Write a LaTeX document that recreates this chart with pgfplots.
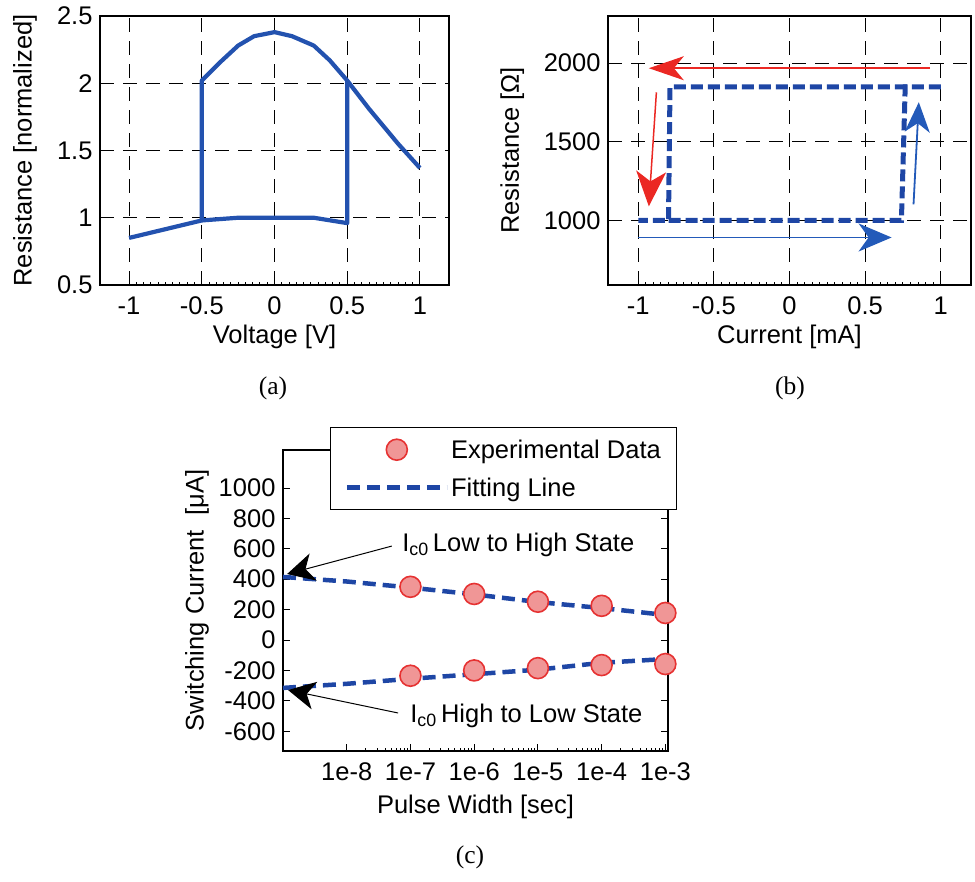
\documentclass[border=0pt]{standalone}
\usepackage{pgfplots}
\pgfplotsset{compat=1.18}
\usepackage{fontspec}
\setmainfont{Liberation Sans}
\newfontfamily\capfont{Liberation Serif}
\usetikzlibrary{arrows.meta}

\definecolor{lineblue}{RGB}{35,82,175}
\definecolor{dashblue}{RGB}{30,70,165}
\definecolor{arrblue}{RGB}{35,90,185}
\definecolor{arrred}{RGB}{235,40,35}
\definecolor{mkfill}{RGB}{240,150,150}
\definecolor{mkdraw}{RGB}{230,50,50}

\newcommand{\bigfont}{\fontsize{25.5bp}{29bp}\selectfont}

\pgfplotsset{
  base/.style={
    scale only axis,
    axis line style={line width=1.3bp},
    tick style={black, line width=1bp},
    major tick length=7bp,
    minor tick length=3bp,
    tick align=inside,
    /pgf/number format/assume math mode=true,
    tick label style={font=\bigfont},
    xticklabel style={yshift=-8bp},
    yticklabel style={xshift=-4bp},
    label style={font=\bigfont},
  },
  dgrid/.style={grid=major, major grid style={black, line width=1.1bp, dash pattern=on 14bp off 9bp}},
}

\begin{document}
\begin{tikzpicture}
\useasboundingbox (0bp,0bp) rectangle (975bp,882bp);

% ---------------- (a)
\begin{axis}[base, dgrid, at={(100bp,597bp)}, anchor=south west, width=349bp, height=269bp,
  xmin=-1.2, xmax=1.2, ymin=0.5, ymax=2.5,
  xtick={-1,-0.5,0,0.5,1}, xticklabels={-1,-0.5,0,0.5,1},
  ytick={0.5,1,1.5,2,2.5}, yticklabels={0.5,1,1.5,2,2.5},
  minor x tick num=9, xtick pos=bottom, ytick pos=left,
  xlabel={Voltage [V]}, ylabel={Resistance [normalized]},
  xlabel style={at={(axis description cs:0.5,-0.219)}, anchor=base},
  ylabel style={at={(axis description cs:-0.215,0.5)}, anchor=center},
]
\addplot[lineblue, line width=4.2bp, line join=round] coordinates {(-1,0.85)(-0.5,0.98)(-0.5,2.02)(-0.37,2.16)(-0.25,2.28)(-0.14,2.35)(0,2.38)(0.12,2.35)(0.27,2.28)(0.38,2.17)(0.5,2.02)(0.65,1.81)(0.85,1.55)(1,1.37)};
\addplot[lineblue, line width=4.2bp, line join=round] coordinates {(-0.5,0.98)(-0.25,1.0)(0,1.0)(0.27,1.0)(0.5,0.96)(0.5,2.02)};
\end{axis}

% ---------------- (b)
\begin{axis}[base, dgrid, at={(608bp,597bp)}, anchor=south west, width=363bp, height=269bp,
  xmin=-1.2, xmax=1.2, ymin=590, ymax=2300,
  xtick={-1,-0.5,0,0.5,1}, xticklabels={-1,-0.5,0,0.5,1},
  ytick={1000,1500,2000}, yticklabels={1000,1500,2000},
  minor x tick num=9, xtick pos=bottom, ytick pos=left,
  xlabel={Current [mA]}, ylabel={Resistance [Ω]},
  xlabel style={at={(axis description cs:0.5,-0.219)}, anchor=base},
  ylabel style={at={(axis description cs:-0.264,0.5)}, anchor=center},
]
\addplot[dashblue, line width=5bp, dash pattern=on 12bp off 5bp] coordinates {(1,1850)(-0.79,1850)(-0.8,1000)(-1,1000)};
\addplot[dashblue, line width=5bp, dash pattern=on 12bp off 5bp] coordinates {(-0.8,1000)(0.74,1000)(0.765,1850)(0.8,1850)};
\addplot[arrred, line width=1.5bp, -{Stealth[length=35bp,width=24bp,inset=10bp]}] coordinates {(0.93,1968)(-0.93,1968)};
\addplot[arrred, line width=1.5bp, -{Stealth[length=35bp,width=30bp,inset=10bp]}] coordinates {(-0.88,1815)(-0.93,1090)};
\addplot[arrblue, line width=1.8bp, -{Stealth[length=33bp,width=28bp,inset=10bp]}] coordinates {(-1,892)(0.675,892)};
\addplot[arrblue, line width=1.8bp, -{Stealth[length=30bp,width=25bp,inset=9bp]}] coordinates {(0.82,1102)(0.855,1752)};
\end{axis}

% ---------------- (c)
\begin{axis}[base, xmode=log, at={(283bp,131bp)}, anchor=south west, width=385bp, height=301bp,
  xmin=1e-9, xmax=1.1e-3, ymin=-730, ymax=1250, clip=false,
  xtick={1e-8,1e-7,1e-6,1e-5,1e-4,1e-3}, xticklabels={1e-8,1e-7,1e-6,1e-5,1e-4,1e-3},
  ytick={-600,-400,-200,0,200,400,600,800,1000},
  yticklabels={-600,-400,-200,0,200,400,600,800,1000},
  xtick pos=bottom,
  xlabel={Pulse Width [sec]}, ylabel={Switching Current\ \ [μA]},
  xlabel style={at={(axis description cs:0.5,-0.206)}, anchor=base},
  ylabel style={at={(axis description cs:-0.223,0.5)}, anchor=center},
  legend style={at={(0.122,1.076)}, anchor=north west, draw=black, line width=1.2bp,
    fill=white, font=\bigfont, row sep=14bp, inner xsep=14bp, inner ysep=10bp,
    cells={anchor=west},
    /tikz/every even column/.append style={column sep=20bp}},
  legend image code/.code={\draw[mark repeat=2,mark phase=2,#1] plot coordinates {(0bp,0bp)(50bp,0bp)(100bp,0bp)};},
]
\addplot[only marks, mark=*, mark size=10.5bp, mark options={fill=mkfill, draw=mkdraw, line width=1.6bp}] coordinates {
(1e-7,350)(1e-6,303)(1e-5,252)(1e-4,225)(1e-3,178)
(1e-7,-235)(1e-6,-200)(1e-5,-185)(1e-4,-165)(1e-3,-158)};
\addlegendentry{Experimental Data}
\addplot[dashblue, line width=4.5bp, dash pattern=on 13bp off 7bp] coordinates {
(1e-9,415)(1e-8,385)(1e-7,345)(1e-6,300)(1e-5,250)(1e-4,210)(1e-3,165)};
\addlegendentry{Fitting Line}
\addplot[dashblue, line width=4.5bp, dash pattern=on 13bp off 7bp, forget plot] coordinates {
(1e-9,-315)(1e-8,-288)(1e-7,-255)(1e-6,-225)(1e-5,-195)(1e-4,-150)(1e-3,-125)};
\addplot[black, line width=1bp, -{Stealth[length=27bp,width=28bp,inset=8bp]}, forget plot] coordinates {(5.1e-8,618)(1.16e-9,434)};
\addplot[black, line width=1bp, -{Stealth[length=27bp,width=28bp,inset=8bp]}, forget plot] coordinates {(6.4e-8,-480)(1.2e-9,-329)};
\node[anchor=base west, inner sep=0pt, font=\bigfont] at (axis cs:7.4e-8,580) {I\textsubscript{c0}\,Low to High State};
\node[anchor=base west, inner sep=0pt, font=\bigfont] at (axis cs:9.9e-8,-540) {I\textsubscript{c0}\,High to Low State};
\end{axis}

\node[anchor=base, font=\capfont\bigfont] at (273bp,487bp) {(a)};
\node[anchor=base, font=\capfont\bigfont] at (790bp,487bp) {(b)};
\node[anchor=base, font=\capfont\bigfont] at (470bp,19bp) {(c)};
\end{tikzpicture}
\end{document}
